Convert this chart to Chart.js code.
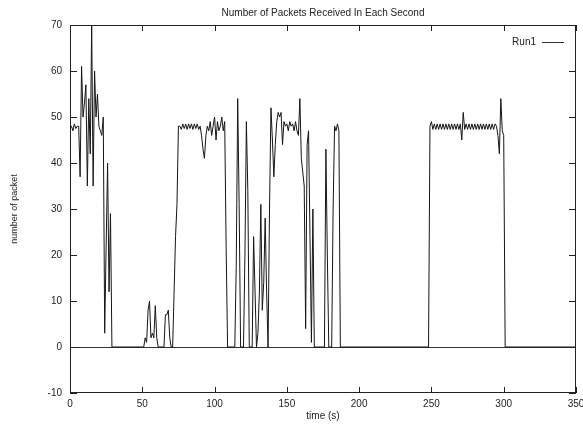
<!DOCTYPE html>
<html>
<head>
<meta charset="utf-8">
<script src="https://cdn.jsdelivr.net/npm/chart.js@4"></script>
<style>
  html, body { margin: 0; padding: 0; background: #fff; }
  #c { display: block; }
</style>
</head>
<body>
<canvas id="c" width="583" height="425"></canvas>
<script>
// ---- data ----
const chartTitle = "Number of Packets Received In Each Second";
const xAxisTitle = "time (s)";
const yAxisTitle = "number of packet";
const seriesName = "Run1";
const xTicks = [0, 50, 100, 150, 200, 250, 300, 350];
const yTicks = [-10, 0, 10, 20, 30, 40, 50, 60, 70];

const times = [
  0,1,2,3,4,5,6,7,8,9,10,11,12,13,14,15,16,17,18,19,20,21,22,23,24,25,26,27,28,29,
  51,52,53,54,55,56,57,58,59,60,61,
  65,66,67,68,69,70,71,72,73,74,75,
  76,77,78,79,80,81,82,83,84,85,86,87,88,89,90,91,92,93,94,95,96,97,98,99,100,101,102,103,104,105,106,107,108,109,
  114,115,116,117,118,120,121,122,123,124,126,127,128,129,130,131,132,133,134,135,136,137,
  138,139,140,141,142,143,144,145,146,147,148,149,150,151,152,153,154,155,156,157,158,159,160,161,162,163,164,165,166,167,168,169,
  176,177,178,179,181,182,183,184,185,186,187,
  248,249,250,251,252,253,254,255,256,257,258,259,260,261,262,263,264,265,266,267,268,269,270,
  271,272,273,274,275,276,277,278,279,280,281,282,283,284,285,286,287,288,289,290,
  291,292,293,294,295,296,297,298,299,300,301,350
];
const packets = [
  48,48,47,48.5,47.5,48,48,37,61,50,53,57,35,54,42,70,35,60,50,55,48,47,46,50,3,22,40,12,29,0,
  0,2,1,8,10,2,3,2,9,2,0,
  0,7,7,8,2,0,0,12,24,31,48,
  48,47.3,48.5,47.5,48.5,47.3,48.5,47.5,48.5,47.3,48.5,47.5,48.5,47.3,48,46,43,41,46,48,47,49,46,48,50,45,49,47,48,50,47,49,22,0,
  0,18,54,31,0,0,20,49,34,0,0,24,12,0,3,12,31,8,14,28,12,0,
  30,52,45,37,44,49,51,50,51,44,49,48,48.5,47,49,48,48.5,47,49,47,46,54,41,38,35,4,44,47,24,1,30,0,
  0,43,20,0,0,30,48,47,48.5,47,0,
  0,48,49,47.3,48.5,47.3,48.5,47.3,48.5,47.3,48.5,47.3,48.5,47.3,48.5,47.3,48.5,47.3,48.5,47.3,48.5,47.3,48.5,
  45,51,47.3,48.5,47.3,48.5,47.3,48.5,47.3,48.5,47.3,48.5,47.3,48.5,47.3,48.5,47.3,48.5,47.3,48.5,
  47.3,48.5,47.3,48.5,48,46,42,54,47,46,0,0
];

// ---- styling ----
const FONT = "'Liberation Sans', Arial, Helvetica, sans-serif";
const INK = '#222';

const points = times.map((t, i) => ({ x: t, y: packets[i] }));

const decorations = {
  id: 'decorations',
  afterDraw(chart) {
    const { ctx, chartArea: a, scales } = chart;
    const xs = scales.x, ys = scales.y;
    ctx.save();
    ctx.strokeStyle = INK;
    ctx.lineWidth = 1;
    // frame
    ctx.strokeRect(Math.round(a.left) + 0.5, Math.round(a.top) + 0.5,
                   Math.round(a.right - a.left) - 1, Math.round(a.bottom - a.top) - 1);
    // inward ticks
    ctx.beginPath();
    xTicks.forEach(v => {
      const px = Math.round(xs.getPixelForValue(v)) + 0.5;
      ctx.moveTo(px, a.bottom); ctx.lineTo(px, a.bottom - 6);
      ctx.moveTo(px, a.top); ctx.lineTo(px, a.top + 6);
    });
    yTicks.forEach(v => {
      const py = Math.round(ys.getPixelForValue(v)) + 0.5;
      ctx.moveTo(a.left, py); ctx.lineTo(a.left + 7, py);
      ctx.moveTo(a.right, py); ctx.lineTo(a.right - 7, py);
    });
    ctx.stroke();
    // title
    ctx.fillStyle = INK;
    ctx.font = '10px ' + FONT;
    ctx.textAlign = 'center';
    ctx.textBaseline = 'middle';
    ctx.fillText(chartTitle, (a.left + a.right) / 2, 13);
    // legend (text then line sample, gnuplot style)
    ctx.textAlign = 'right';
    ctx.fillText(seriesName, 536, 42);
    ctx.beginPath();
    ctx.strokeStyle = '#333';
    ctx.moveTo(542, 42.5); ctx.lineTo(564, 42.5);
    ctx.stroke();
    ctx.restore();
  }
};

new Chart(document.getElementById('c'), {
  type: 'line',
  data: {
    datasets: [{
      label: seriesName,
      data: points,
      borderColor: '#151515',
      borderWidth: 1,
      pointRadius: 0,
      tension: 0,
      fill: false
    }]
  },
  options: {
    responsive: false,
    animation: false,
    devicePixelRatio: 1,
    layout: { padding: { top: 25, right: 7, left: 0, bottom: 0 } },
    plugins: {
      legend: { display: false },
      title: { display: false },
      tooltip: { enabled: false }
    },
    scales: {
      x: {
        type: 'linear',
        min: 0, max: 350,
        afterFit(s) { s.height = 32; s.paddingLeft = 0; s.paddingRight = 0; },
        afterBuildTicks(s) { s.ticks = xTicks.map(v => ({ value: v })); },
        grid: { display: false, drawTicks: false },
        border: { display: false },
        ticks: { color: INK, font: { family: FONT, size: 10 }, padding: 5, maxRotation: 0, autoSkip: false },
        title: { display: true, text: xAxisTitle, color: INK, font: { family: FONT, size: 10 }, padding: { top: 0, bottom: 3 } }
      },
      y: {
        min: -10, max: 70,
        afterFit(s) { s.width = 70; s.paddingTop = 0; s.paddingBottom = 0; },
        afterBuildTicks(s) { s.ticks = yTicks.map(v => ({ value: v })); },
        grid: {
          drawTicks: false,
          color: c => (c.tick && c.tick.value === 0) ? '#333' : 'rgba(0,0,0,0)',
          lineWidth: 1
        },
        border: { display: false },
        ticks: { color: INK, font: { family: FONT, size: 10 }, padding: 8, autoSkip: false },
        title: { display: true, text: yAxisTitle, color: INK, font: { family: FONT, size: 9 }, padding: { top: 9, bottom: 0 } }
      }
    }
  },
  plugins: [decorations]
});
</script>
</body>
</html>
